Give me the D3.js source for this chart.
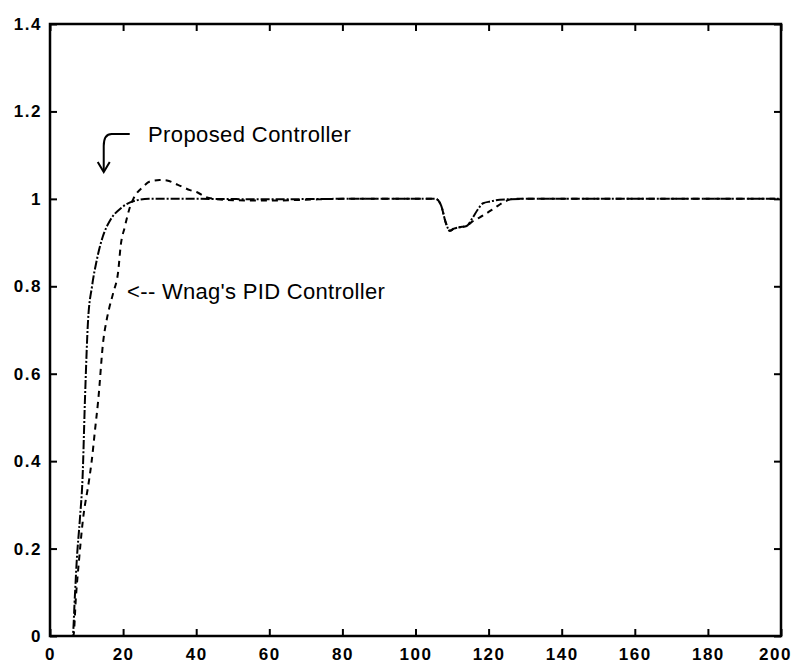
<!DOCTYPE html>
<html>
<head>
<meta charset="utf-8">
<script src="https://cdn.jsdelivr.net/npm/d3@7"></script>
<style>
  body { margin: 0; background: #fff; }
  svg { display: block; font-family: "Liberation Sans", Arial, sans-serif; }
</style>
</head>
<body>
<div class="mainView"></div>
<script>
// step responses
let timeProposed = [0, 6.2, 6.8, 7.3, 8.2, 8.9, 9.6, 10.4, 11.5, 12.8, 14.5, 16.4, 19.6, 23, 27, 40, 60, 80, 100, 105.5, 107, 108.3, 109.4, 110.5, 112, 114, 115.5, 117, 118.5, 120.5, 123, 130, 150, 170, 200];
let valProposed  = [0, 0, 0.09, 0.17, 0.27, 0.36, 0.55, 0.72, 0.80, 0.86, 0.915, 0.95, 0.98, 0.995, 1.0, 1.0, 0.999, 1.0, 1.0, 1.0, 0.985, 0.945, 0.927, 0.932, 0.935, 0.938, 0.955, 0.975, 0.99, 0.994, 0.998, 1.0, 1.0, 1.0, 1.0];

let timePID = [0, 6.4, 7.1, 7.9, 9, 10.7, 11.4, 12.3, 13.2, 14.6, 15.5, 16.2, 17.3, 18.7, 19.3, 20.5, 21.9, 22.8, 25.5, 27.4, 30, 32, 35, 38.3, 40.5, 42.4, 45, 50, 60, 70, 80, 100, 105.5, 107, 108.3, 109.4, 110.5, 112, 114, 115.5, 117, 118.5, 121.5, 124, 127, 135, 160, 200];
let valPID  = [0, 0, 0.09, 0.17, 0.265, 0.357, 0.40, 0.47, 0.54, 0.677, 0.723, 0.75, 0.785, 0.837, 0.89, 0.937, 0.982, 1.0, 1.028, 1.04, 1.043, 1.042, 1.032, 1.02, 1.014, 1.005, 1.0, 0.997, 0.996, 0.998, 1.0, 1.0, 1.0, 0.985, 0.945, 0.927, 0.932, 0.935, 0.938, 0.948, 0.955, 0.962, 0.978, 0.992, 1.0, 1.0, 1.0, 1.0];

let xTicks = [0, 20, 40, 60, 80, 100, 120, 140, 160, 180, 200];
let yTicks = [0, 0.2, 0.4, 0.6, 0.8, 1, 1.2, 1.4];

function getConfig(){
    let width = 794;
    let height = 666;
    let margin = { top: 24, bottom: 30, left: 50, right: 13 };
    let bodyWidth = width - margin.left - margin.right;
    let bodyHeight = height - margin.top - margin.bottom;
    let svg = d3.select(".mainView").append("svg")
        .attr("width", width)
        .attr("height", height);
    let container = svg.append("g")
        .attr("transform", "translate(" + [margin.left, margin.top] + ")");
    return { width, height, margin, bodyWidth, bodyHeight, container };
}

function getScales(config){
    let { bodyWidth, bodyHeight } = config;
    let xScale = d3.scaleLinear().domain([0, 200]).range([0, bodyWidth]);
    let yScale = d3.scaleLinear().domain([0, 1.4]).range([bodyHeight, 0]);
    return { xScale, yScale };
}

function drawAxes(scales, config){
    let { xScale, yScale } = scales;
    let { container, bodyWidth, bodyHeight } = config;
    let fmt = (d) => String(+d.toFixed(1));

    let bottom = container.append("g")
        .attr("transform", "translate(0," + bodyHeight + ")")
        .call(d3.axisBottom(xScale).tickValues(xTicks).tickSize(-7).tickPadding(12).tickFormat(fmt));
    let top = container.append("g")
        .call(d3.axisTop(xScale).tickValues(xTicks).tickSize(-7).tickFormat(""));
    let left = container.append("g")
        .call(d3.axisLeft(yScale).tickValues(yTicks).tickSize(-7).tickPadding(8).tickFormat(fmt));
    let right = container.append("g")
        .attr("transform", "translate(" + bodyWidth + ",0)")
        .call(d3.axisRight(yScale).tickValues(yTicks).tickSize(-7).tickFormat(""));

    [bottom, top, left, right].forEach((g) => {
        g.select(".domain").remove();
        g.selectAll(".tick line").attr("stroke", "#000").attr("stroke-width", 2);
        g.selectAll("text")
            .attr("fill", "#000")
            .style("font-size", "17px")
            .style("font-weight", "bold")
            .style("letter-spacing", "1.5px");
    });
    // last x label sits at the right edge of the page, pull it in a little
    bottom.selectAll(".tick text").filter((d) => d === 200).attr("dx", -6);

    container.append("rect")
        .attr("x", 0).attr("y", 0)
        .attr("width", bodyWidth).attr("height", bodyHeight)
        .attr("fill", "none")
        .attr("stroke", "#000")
        .attr("stroke-width", 2.5);
}

function drawLines(scales, config){
    let { xScale, yScale } = scales;
    let { container } = config;
    let line = d3.line()
        .x((d) => xScale(d[0]))
        .y((d) => yScale(d[1]))
        .curve(d3.curveMonotoneX);

    container.append("path")
        .datum(timePID.map((t, i) => [t, valPID[i]]))
        .attr("d", line)
        .attr("fill", "none")
        .attr("stroke", "#000")
        .attr("stroke-width", 2)
        .attr("stroke-dasharray", "6,5");

    container.append("path")
        .datum(timeProposed.map((t, i) => [t, valProposed[i]]))
        .attr("d", line)
        .attr("fill", "none")
        .attr("stroke", "#000")
        .attr("stroke-width", 2)
        .attr("stroke-dasharray", "9,2,2,2");
}

function annotations(scales, config){
    let { xScale, yScale } = scales;
    let { container } = config;

    container.append("text")
        .attr("x", xScale(26.8))
        .attr("y", yScale(1.13))
        .text("Proposed Controller")
        .style("font-size", "22px")
        .style("letter-spacing", "0.4px");

    // curved arrow pointing down to the proposed curve
    let ax = xScale(14.7), ay = yScale(1.13) - 8;
    container.append("path")
        .attr("d", "M" + (ax + 26) + "," + ay + " L" + (ax + 8) + "," + ay +
              " Q" + ax + "," + ay + " " + ax + "," + (ay + 12) + " L" + ax + "," + (ay + 37))
        .attr("fill", "none")
        .attr("stroke", "#000")
        .attr("stroke-width", 2);
    container.append("path")
        .attr("d", "M" + (ax - 6) + "," + (ay + 28) + " L" + ax + "," + (ay + 38) + " L" + (ax + 6) + "," + (ay + 28))
        .attr("fill", "none")
        .attr("stroke", "#000")
        .attr("stroke-width", 2);

    container.append("text")
        .attr("x", xScale(21.1))
        .attr("y", yScale(0.771))
        .text("<-- Wnag's PID Controller")
        .style("font-size", "22px")
        .style("letter-spacing", "0.3px");
}

let config = getConfig();
let scales = getScales(config);
drawLines(scales, config);
drawAxes(scales, config);
annotations(scales, config);
</script>
</body>
</html>
